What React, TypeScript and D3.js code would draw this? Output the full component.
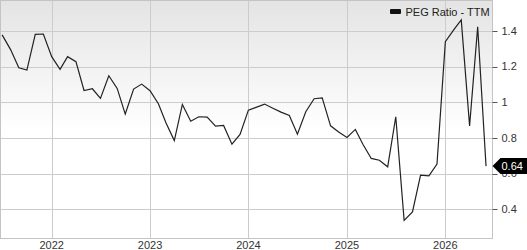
import React from "react";
import * as d3 from "d3";

const startMonth = "2021-07-01";
const pegValues = [
  1.378, 1.297, 1.194, 1.181, 1.381, 1.383, 1.256, 1.185, 1.256, 1.228,
  1.066, 1.076, 1.022, 1.149, 1.078, 0.934, 1.074, 1.102, 1.065, 0.992,
  0.885, 0.785, 0.988, 0.894, 0.919, 0.917, 0.866, 0.87, 0.765, 0.82,
  0.956, 0.973, 0.99, 0.967, 0.945, 0.926, 0.821, 0.947, 1.02, 1.025,
  0.868, 0.834, 0.803, 0.848, 0.765, 0.685, 0.675, 0.638, 0.919, 0.338,
  0.385, 0.591, 0.587, 0.653, 1.34, 1.406, 1.462, 0.868, 1.424, 0.642,
];
const yTicks = [0.4, 0.6, 0.8, 1, 1.2, 1.4];
const yTickLabels = ["0.4", "0.6", "0.8", "1", "1.2", "1.4"];
const xTickYears = [2022, 2023, 2024, 2025, 2026];
const seriesName = "PEG Ratio - TTM";
const lastLabel = "0.64";

const W = 527;
const H = 250;
const left = 0.5;
const right = 492.5;
const top = 0.5;
const bottom = 238.5;

export default function App() {
  const start = new Date(startMonth + "T00:00:00");
  const dates = pegValues.map((_, i) => d3.timeMonth.offset(start, i));
  const data = dates.map((d, i) => ({ d, v: pegValues[i] }));

  const x = d3
    .scaleTime()
    .domain([new Date(2021, 5, 25), new Date(2026, 5, 25)])
    .range([left, right]);
  const y = d3.scaleLinear().domain([0.236, 1.571]).range([bottom, top]);

  const line = d3
    .line<{ d: Date; v: number }>()
    .x((p) => x(p.d))
    .y((p) => y(p.v));

  const last = data[data.length - 1];
  const ly = y(last.v);
  const font = "'Liberation Sans', Arial, Helvetica, sans-serif";

  return (
    <svg
      width={W}
      height={H}
      style={{ position: "absolute", left: 0, top: 0, display: "block" }}
    >
      <defs>
        <linearGradient id="bg" x1="0" y1="0" x2="0" y2="1">
          <stop offset="0" stopColor="#e4e4e4" />
          <stop offset="0.55" stopColor="#ffffff" />
          <stop offset="1" stopColor="#ffffff" />
        </linearGradient>
      </defs>
      <rect x={0} y={0} width={W} height={H} fill="#ffffff" />
      <rect
        x={left}
        y={top}
        width={right - left}
        height={bottom - top}
        fill="url(#bg)"
      />
      {yTicks.map((t) => (
        <line
          key={"gy" + t}
          x1={left}
          x2={right}
          y1={Math.round(y(t)) + 0.5}
          y2={Math.round(y(t)) + 0.5}
          stroke="#cccccc"
          strokeWidth={1}
        />
      ))}
      {xTickYears.map((yr) => {
        const xx = Math.round(x(new Date(yr, 0, 1))) + 0.5;
        return (
          <line
            key={"gx" + yr}
            x1={xx}
            x2={xx}
            y1={top}
            y2={bottom}
            stroke="#cccccc"
            strokeWidth={1}
          />
        );
      })}
      <rect
        x={left}
        y={top}
        width={right - left}
        height={bottom - top}
        fill="none"
        stroke="#c4c4c4"
        strokeWidth={1}
      />
      {yTicks.map((t, i) => (
        <g key={"ty" + t}>
          <line
            x1={right}
            x2={right + 5}
            y1={Math.round(y(t)) + 0.5}
            y2={Math.round(y(t)) + 0.5}
            stroke="#555"
            strokeWidth={1}
          />
          <text
            x={right + 9}
            y={y(t)}
            dy="0.35em"
            fontFamily={font}
            fontSize={11}
            fill="#333"
          >
            {yTickLabels[i]}
          </text>
        </g>
      ))}
      {xTickYears.map((yr) => (
        <text
          key={"tx" + yr}
          x={x(new Date(yr, 0, 1))}
          y={249}
          textAnchor="middle"
          fontFamily={font}
          fontSize={11}
          fill="#333"
        >
          {yr}
        </text>
      ))}
      <path
        d={line(data) || ""}
        fill="none"
        stroke="#222"
        strokeWidth={1.2}
        strokeLinejoin="miter"
      />
      <rect x={390} y={9} width={11} height={5} rx={1} fill="#111" />
      <text x={405.5} y={15.5} fontFamily={font} fontSize={11} fill="#222">
        {seriesName}
      </text>
      <path
        d={`M${right},${ly} L${right + 8},${ly - 8} L${W},${ly - 8} L${W},${ly + 8} L${right + 8},${ly + 8} Z`}
        fill="#000"
      />
      <text
        x={right + 9}
        y={ly}
        dy="0.35em"
        fontFamily={font}
        fontSize={11}
        fill="#fff"
      >
        {lastLabel}
      </text>
    </svg>
  );
}
